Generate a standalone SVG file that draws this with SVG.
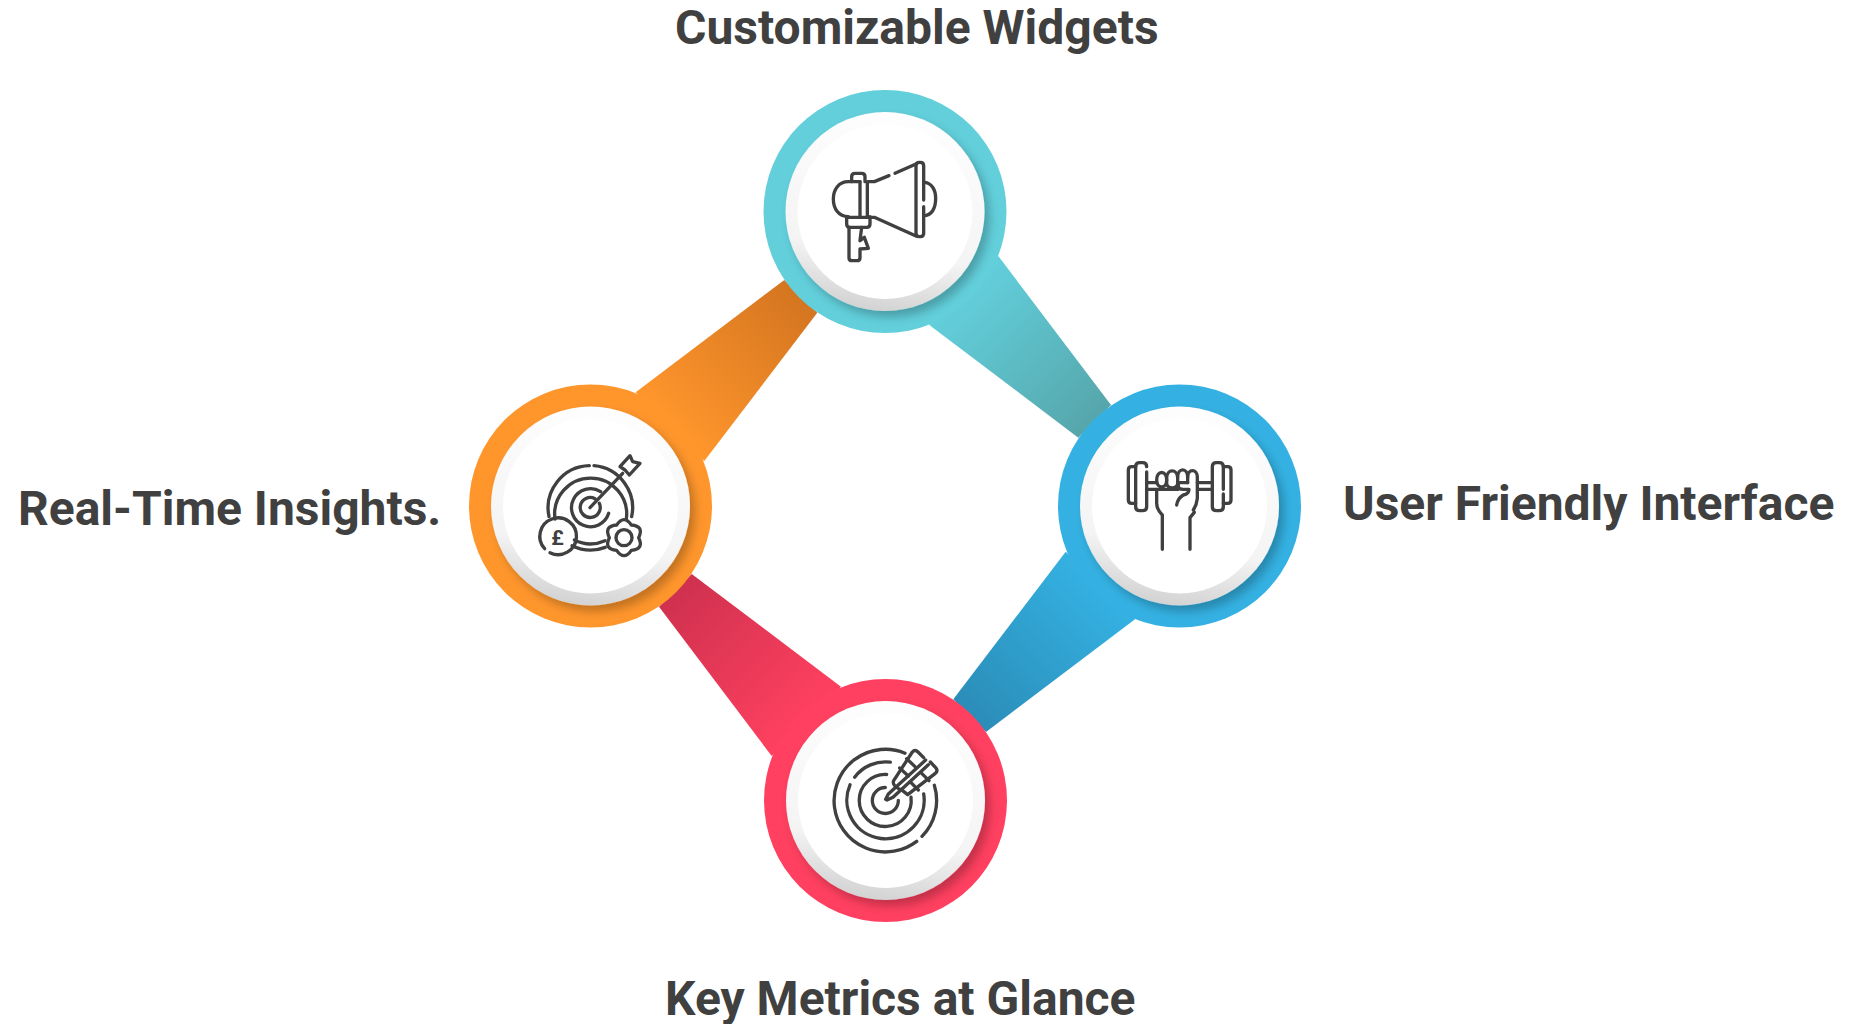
<svg xmlns="http://www.w3.org/2000/svg" width="1850" height="1024" viewBox="0 0 1850 1024">
<style>
.label{font-family:Roboto,"Liberation Sans",sans-serif;font-weight:700;font-size:48px;fill:#404040}
.ic{fill:none;stroke:#404040;stroke-width:10;stroke-linecap:round;stroke-linejoin:round}
.disc{filter:url(#sh)}
.inner{fill:#fff}
.ring{fill:url(#rim)}
</style>
<defs>
<filter id="sh" x="-30%" y="-30%" width="160%" height="160%"><feDropShadow dx="5" dy="6" stdDeviation="5" flood-color="#000" flood-opacity="0.24"/></filter>
<linearGradient id="rim" x1="0.58" y1="0" x2="0.42" y2="1"><stop offset="0" stop-color="#fefefe"/><stop offset="0.7" stop-color="#f4f4f4"/><stop offset="1" stop-color="#d2d2d2"/></linearGradient>
<linearGradient id="gTeal" gradientUnits="userSpaceOnUse" x1="964" y1="290" x2="1095" y2="421"><stop offset="0" stop-color="#62CFDB"/><stop offset="1" stop-color="#56A6AB"/></linearGradient>
<linearGradient id="gBlue" gradientUnits="userSpaceOnUse" x1="1100" y1="585" x2="970" y2="715"><stop offset="0" stop-color="#34B1E2"/><stop offset="1" stop-color="#2B8DB8"/></linearGradient>
<linearGradient id="gRed" gradientUnits="userSpaceOnUse" x1="675" y1="590" x2="806" y2="721"><stop offset="0" stop-color="#CF314F"/><stop offset="1" stop-color="#FF4060"/></linearGradient>
<linearGradient id="gOrange" gradientUnits="userSpaceOnUse" x1="670" y1="426" x2="800" y2="296"><stop offset="0" stop-color="#FF962C"/><stop offset="1" stop-color="#D47520"/></linearGradient>
</defs>
<rect width="1850" height="1024" fill="#fff"/>
<g id="connectors">
<polygon points="998.3,256 1111,405 1078.3,437.7 929.3,325" fill="url(#gTeal)"/>
<polygon points="1065.7,551.7 1135,619.3 986,732 953.3,699.3" fill="url(#gBlue)"/>
<polygon points="691.7,574 841,686.7 771.7,756 659,606.7" fill="url(#gRed)"/>
<polygon points="635.7,392.3 784.3,280 817.3,312.7 704.3,461" fill="url(#gOrange)"/>
</g>
<g id="node-top">
<circle cx="885" cy="211.5" r="121.5" fill="#62CFDB"/>
<circle class="disc ring" cx="885" cy="211.5" r="99.5"/>
<circle class="inner" cx="885" cy="211.5" r="87.5"/>
<g class="ic" transform="translate(815 150) scale(.33333)">
<path d="M326 150V47Q326 37 316 37H313Q303 37 303 47V250Q303 260 313 260H316Q326 260 326 250V170"/>
<path d="M326 97C350 97 362 120 362 145C362 175 350 197 326 197"/>
<path d="M303 42L240 70M222 77L178 95H160"/>
<path d="M303 258L178 202H95"/>
<path d="M135 95V200M157 95V200"/>
<path d="M110 95V80Q110 70 120 70H140Q150 70 150 80V95"/>
<path d="M135 95H100C70 95 55 120 55 147C55 175 70 200 100 200"/>
<path d="M95 200V222Q95 232 105 232H155Q165 232 165 222V200"/>
<path d="M102 232V323Q102 332 111 332H126Q135 332 135 323V297L160 295L148 262L135 272L140 232"/>
</g>
<text class="label" x="675" y="44">Customizable Widgets</text>
</g>
<g id="node-right">
<circle cx="1179.5" cy="506" r="121.5" fill="#34B1E2"/>
<circle class="disc ring" cx="1179.5" cy="506" r="99.5"/>
<circle class="inner" cx="1179.5" cy="506" r="87.5"/>
<g class="ic" transform="translate(1115 450) scale(.33333)">
<path d="M62 50H50Q40 50 40 60V150Q40 160 50 160H62"/>
<path d="M95 50Q95 38 83 38H74Q62 38 62 50V170Q62 182 74 182H83Q95 182 95 170V66"/>
<path d="M95 98H125M95 118H190M247 98H292M252 118H292"/>
<path d="M325 118V50Q325 38 313 38H304Q292 38 292 50V170Q292 182 304 182H313Q325 182 325 170V132"/>
<path d="M325 50H338Q348 50 348 60V150Q348 160 338 160H325"/>
<path d="M125 90C125 60 155 60 155 90C155 118 125 118 125 90Z"/>
<path d="M155 85C155 55 188 55 188 85V100C188 118 155 118 155 100Z"/>
<path d="M188 82C188 52 218 52 218 82V98"/>
<path d="M218 82C218 55 247 55 247 82V145Q245 165 235 180"/>
<path d="M190 98H218"/>
<path d="M190 98V108Q190 118 205 118H222Q222 132 205 135Q188 145 185 165"/>
<path d="M125 118V160Q125 178 142 195V298"/>
<path d="M238 187L225 203V298"/>
</g>
<text class="label" x="1343" y="520">User Friendly Interface</text>
</g>
<g id="node-bottom">
<circle cx="885.5" cy="800.5" r="121.5" fill="#FF4060"/>
<circle class="disc ring" cx="885.5" cy="800.5" r="99.5"/>
<circle class="inner" cx="885.5" cy="800.5" r="87.5"/>
<g class="ic" transform="translate(825 740) scale(.33333)">
<path d="M240 39.5A154 154 0 1 0 275 304M291 289A154 154 0 0 0 328 136"/>
<path d="M89 111.5A116 116 0 0 1 196 66.5M75 134.5A116 116 0 1 0 296 161.5"/>
<path d="M185 103.5A78 78 0 1 0 258 171.5"/>
<path d="M181 142.5A39 39 0 1 0 220 181.5"/>
<path d="M182 178L190 162L302 60M186 180L204 172L310 74"/>
<path d="M206 122L262 36Q270 27 279 36L296 53M206 122Q202 132 212 140L222 147"/>
<path d="M228 148L248 164L331 100Q340 92 332 83L316 66"/>
<path d="M224 84L250 108M245 56L270 80M258 128L280 150M290 100L312 122"/>
</g>
<text class="label" x="665" y="1015">Key Metrics at Glance</text>
</g>
<g id="node-left">
<circle cx="590.5" cy="506" r="121.5" fill="#FF962C"/>
<circle class="disc ring" cx="590.5" cy="506" r="99.5"/>
<circle class="inner" cx="590.5" cy="506" r="87.5"/>
<g class="ic" transform="translate(530 445) scale(.33333)">
<path d="M178 62A127 127 0 0 0 57 215M192 62A127 127 0 0 1 305 215"/>
<path d="M75 222A108 108 0 1 1 289 222"/>
<path d="M133 285A108 108 0 0 0 225 287M126 302A127 127 0 0 0 226 307"/>
<path d="M212 140A57 57 0 1 0 236 205"/>
<path d="M195 161A30 30 0 1 0 208 175"/>
<path d="M180 188L278 85"/>
<path d="M270 65L300 32L308 50L330 55L298 90L285 75Z"/>
<path d="M60 323A55 55 0 1 0 44 311"/>
<path d="M260 240Q282 208 304 240Q343 243 326 278Q343 313 304 316Q282 348 260 316Q221 313 238 278Q221 243 260 240Z"/>
<circle cx="282" cy="278" r="24"/>
</g>
<text x="557.5" y="545" font-family="Roboto,'Liberation Sans',sans-serif" font-weight="700" font-size="21" fill="#404040" text-anchor="middle">£</text>
<text class="label" x="18" y="525">Real-Time Insights.</text>
</g>
</svg>
